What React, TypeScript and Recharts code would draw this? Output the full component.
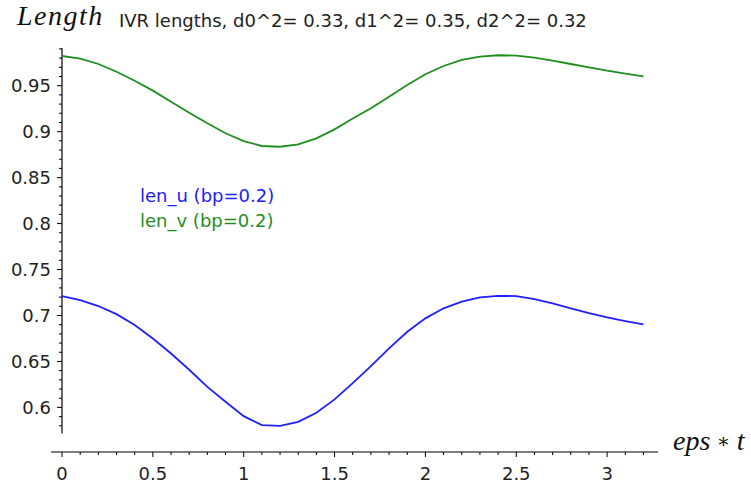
import { LineChart, Line, XAxis, YAxis, ReferenceLine } from "recharts"

// eps*t sample points and the two IVR length series
const epsT = [0, 0.1, 0.2, 0.3, 0.4, 0.5, 0.6, 0.7, 0.8, 0.9, 1.0, 1.1, 1.2, 1.3, 1.4, 1.5, 1.6,
  1.7, 1.8, 1.9, 2.0, 2.1, 2.2, 2.3, 2.4, 2.5, 2.6, 2.7, 2.8, 2.9, 3.0, 3.1, 3.2]
const lenU = [0.7211, 0.7168, 0.7103, 0.7015, 0.6896, 0.6749, 0.6587, 0.641, 0.6224, 0.6061, 0.5905,
  0.5807, 0.58, 0.5843, 0.5941, 0.6087, 0.6265, 0.6449, 0.6642, 0.6823, 0.6969, 0.7078, 0.715,
  0.7197, 0.7214, 0.7211, 0.7178, 0.7131, 0.7078, 0.7026, 0.6979, 0.6939, 0.6903]
const lenV = [0.9823, 0.9794, 0.9736, 0.9652, 0.9554, 0.9446, 0.9326, 0.9206, 0.9091, 0.8982, 0.8898,
  0.8844, 0.8836, 0.8862, 0.8927, 0.9025, 0.9142, 0.9254, 0.938, 0.9508, 0.9624, 0.9714, 0.978,
  0.9816, 0.9831, 0.9827, 0.9805, 0.9772, 0.9736, 0.97, 0.9663, 0.9631, 0.9602]

const xTicks = [0, 0.1, 0.2, 0.3, 0.4, 0.5, 0.6, 0.7, 0.8, 0.9, 1, 1.1, 1.2, 1.3, 1.4, 1.5, 1.6,
  1.7, 1.8, 1.9, 2, 2.1, 2.2, 2.3, 2.4, 2.5, 2.6, 2.7, 2.8, 2.9, 3, 3.1, 3.2]
const xLabels = ["0", "0.5", "1", "1.5", "2", "2.5", "3"]
const yTicks = [0.58, 0.59, 0.6, 0.61, 0.62, 0.63, 0.64, 0.65, 0.66, 0.67, 0.68, 0.69, 0.7, 0.71,
  0.72, 0.73, 0.74, 0.75, 0.76, 0.77, 0.78, 0.79, 0.8, 0.81, 0.82, 0.83, 0.84, 0.85, 0.86, 0.87,
  0.88, 0.89, 0.9, 0.91, 0.92, 0.93, 0.94, 0.95, 0.96, 0.97, 0.98, 0.99]
const yLabels = ["0.6", "0.65", "0.7", "0.75", "0.8", "0.85", "0.9", "0.95"]

const title = "IVR lengths, d0^2= 0.33, d1^2= 0.35, d2^2= 0.32"
const seriesU = "len_u (bp=0.2)"
const seriesV = "len_v (bp=0.2)"

const data = epsT.map((t, i) => ({ t, u: lenU[i], v: lenV[i] }))

const FONT = "DejaVu Sans, sans-serif"
const BLUE = "#2020ff"
const GREEN = "#1e8f1e"
const TEXT = "#222"

const findLabel = (labels: string[], v: number) =>
  labels.find((l) => Math.abs(Number(l) - v) < 1e-6)

function XTick(props: any) {
  const { x, y, payload } = props
  const label = findLabel(xLabels, payload.value)
  return (
    <g>
      <line x1={x} x2={x} y1={y} y2={y + (label ? 5 : 3)} stroke="#000" strokeWidth={1} />
      {label && (
        <text x={x} y={y + 28} textAnchor="middle" fontFamily={FONT} fontSize={18} fill={TEXT}>
          {label}
        </text>
      )}
    </g>
  )
}

function YTick(props: any) {
  const { x, y, payload } = props
  const label = findLabel(yLabels, payload.value)
  return (
    <g>
      <line x1={x - (label ? 5 : 3)} x2={x} y1={y} y2={y} stroke="#000" strokeWidth={1} />
      {label && (
        <text x={x - 11} y={y + 6.5} textAnchor="end" fontFamily={FONT} fontSize={18} fill={TEXT}>
          {label}
        </text>
      )}
    </g>
  )
}

export default function App() {
  return (
    <div style={{ position: "absolute", left: 0, top: 0, width: 751, height: 487, background: "#fff" }}>
      <LineChart width={751} height={487} data={data} margin={{ top: 48, right: 93, bottom: 5, left: 0 }}>
        <XAxis
          dataKey="t"
          type="number"
          domain={[0, 3.28]}
          ticks={xTicks}
          interval={0}
          axisLine={false}
          tickLine={false}
          tickSize={0}
          tickMargin={0}
          height={30}
          tick={<XTick />}
        />
        <YAxis
          type="number"
          domain={[0.5515, 0.991]}
          ticks={yTicks}
          interval={0}
          axisLine={false}
          tickLine={false}
          tickSize={0}
          tickMargin={0}
          width={62}
          tick={<YTick />}
        />
        <ReferenceLine
          segment={[{ x: -0.06, y: 0.5515 }, { x: 3.28, y: 0.5515 }]}
          stroke="#000"
          strokeWidth={1.2}
          ifOverflow="visible"
        />
        <ReferenceLine
          segment={[{ x: 0, y: 0.5717 }, { x: 0, y: 0.991 }]}
          stroke="#000"
          strokeWidth={1.2}
          ifOverflow="visible"
        />
        <Line dataKey="u" name={seriesU} type="linear" stroke={BLUE} strokeWidth={1.8} dot={false} isAnimationActive={false} />
        <Line dataKey="v" name={seriesV} type="linear" stroke={GREEN} strokeWidth={1.8} dot={false} isAnimationActive={false} />
        <text x={140} y={202} fontFamily={FONT} fontSize={18} fill={BLUE}>{seriesU}</text>
        <text x={140} y={227} fontFamily={FONT} fontSize={18} fill={GREEN}>{seriesV}</text>
        <text x={17} y={25} fontFamily="Liberation Serif, serif" fontStyle="italic" fontSize={28} letterSpacing={1.5} fill="#111">
          Length
        </text>
        <text x={119} y={27} fontFamily={FONT} fontSize={18} fill={TEXT}>
          {title}
        </text>
        <text x={673} y={450} fontFamily="Liberation Serif, serif" fontStyle="italic" fontSize={28} fill="#111">
          eps<tspan fontStyle="normal" fontFamily="DejaVu Serif, serif" fontSize={20} dy={-2}> ∗ </tspan><tspan dy={2}>t</tspan>
        </text>
      </LineChart>
    </div>
  )
}
